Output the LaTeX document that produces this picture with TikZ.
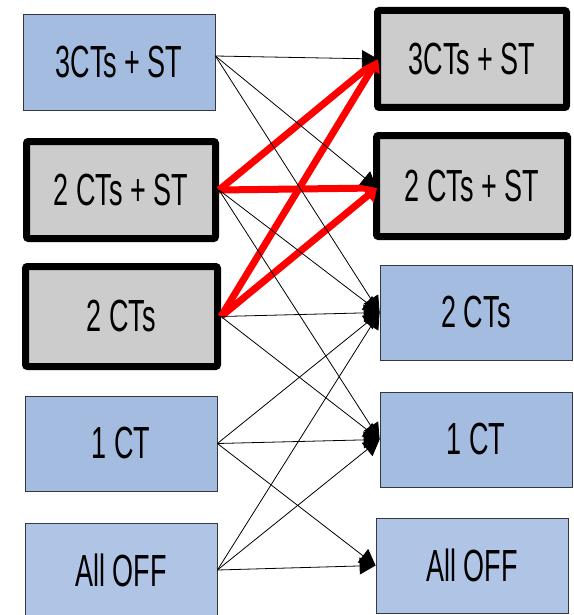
\documentclass[tikz,border=0pt]{standalone}
\usepackage{fontspec}
\setmainfont{Liberation Sans}[FakeStretch=0.6]
\usetikzlibrary{arrows.meta}
\definecolor{boxblue}{RGB}{164,188,224}
\definecolor{boxblue2}{RGB}{176,197,229}
\definecolor{boxgray}{RGB}{204,204,204}
\definecolor{edgegray}{RGB}{50,55,65}
\begin{document}
\begin{tikzpicture}[x=1pt,y=-1pt,
  every node/.style={inner sep=0pt, font=\fontsize{45}{48}\selectfont},
  bluebox/.style={draw=edgegray, line width=0.8pt, fill=boxblue, minimum width=192pt, minimum height=95pt},
  lightbox/.style={bluebox, fill=boxblue2},
  thickbox/.style={draw=black, line width=7pt, fill=boxgray, rounded corners=2pt},
  thin/.style={draw=black, line width=0.8pt, -{Triangle[length=16pt,width=17pt]}},
  hot/.style={draw=red, line width=7pt, -{Triangle[length=12pt,width=18pt]}}]
\useasboundingbox (0,0) rectangle (573,615);
% left column
\node[bluebox, minimum height=96pt] (L1) at (119,62) {3CTs + ST};
\node[thickbox, minimum width=189pt, minimum height=97pt] (L2) at (121,190) {2 CTs + ST};
\node[thickbox, minimum width=192pt, minimum height=100pt] (L3) at (121.5,316.5) {2 CTs};
\node[bluebox] (L4) at (121,443.5) {1 CT};
\node[lightbox, minimum height=94pt] (L5) at (121,570) {All OFF};
% right column
\node[thickbox, minimum width=189pt, minimum height=97pt] (R1) at (472,59) {3CTs + ST};
\node[thickbox, minimum width=191pt, minimum height=101pt] (R2) at (472,186) {2 CTs + ST};
\node[bluebox] (R3) at (476,312.5) {2 CTs};
\node[bluebox] (R4) at (476,439.5) {1 CT};
\node[lightbox] (R5) at (472,565.5) {All OFF};
% red (highlighted) transitions
\draw[hot] (L2.east) -- ([xshift=4pt]R1.west);
\draw[hot] (L2.east) -- ([xshift=4pt,yshift=-2pt]R2.west);
\draw[hot] (L3.east) -- ([xshift=4pt]R1.west);
\draw[hot] (L3.east) -- ([xshift=4pt,yshift=-2pt]R2.west);
% thin transitions
\coordinate (s1) at ([yshift=6pt]L1.east);
\draw[thin] (s1) -- ([xshift=4pt]R1.west);
\draw[thin] (s1) -- ([xshift=4pt,yshift=-2pt]R2.west);
\draw[thin] (s1) -- (R3.west);
\draw[thin] (L2.east) -- (R3.west);
\draw[thin] (L2.east) -- (R4.west);
\draw[thin] (L3.east) -- (R3.west);
\draw[thin] (L3.east) -- (R4.west);
\draw[thin] (L4.east) -- (R3.west);
\draw[thin] (L4.east) -- (R4.west);
\draw[thin] (L4.east) -- (R5.west);
\draw[thin] (L5.east) -- (R3.west);
\draw[thin] (L5.east) -- (R4.west);
\draw[thin] (L5.east) -- (R5.west);
\end{tikzpicture}
\end{document}
